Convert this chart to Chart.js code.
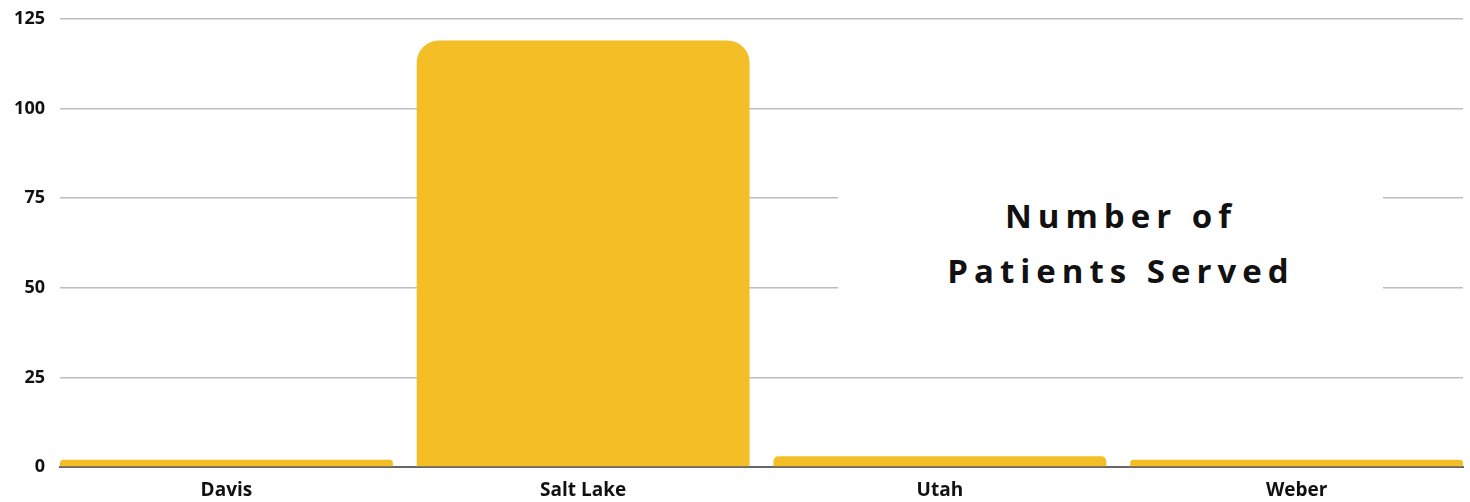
<!DOCTYPE html>
<html lang="en">
<head>
  <meta charset="UTF-8" />
  <title>Number of Patients Served</title>
  <style>
    body {
      margin: 0;
      background: #fff;
      font-family: "Open Sans", Arial, sans-serif;
    }
    .wrap {
      position: relative;
      width: 1470px;
      height: 502px;
    }
    .title-box {
      position: absolute;
      box-sizing: border-box;
      left: 838px;
      top: 160px;
      width: 545px;
      height: 165px;
      padding-left: 21px;
      background: #fff;
      display: flex;
      align-items: center;
      justify-content: center;
      text-align: center;
      font-size: 33px;
      font-weight: 700;
      letter-spacing: 6px;
      line-height: 55px;
      color: #111;
    }
  </style>
</head>
<body>

<div class="wrap">
  <canvas id="patientsChart"></canvas>
  <div class="title-box">Number of<br>Patients Served</div>
</div>

<script src="https://cdn.jsdelivr.net/npm/chart.js"></script>
<script>
  // counties and patient counts
  const counties = ['Davis', 'Salt Lake', 'Utah', 'Weber'];
  const patients = [2, 119, 3, 2];
  const yTicks = [0, 25, 50, 75, 100, 125];

  // linear x so the outer bars can sit flush with the plot edges
  const points = patients.map((v, i) => ({ x: i, y: v }));

  const ctx = document.getElementById('patientsChart').getContext('2d');
  new Chart(ctx, {
    type: 'bar',
    data: {
      datasets: [{
        label: 'Patients',
        data: points,
        backgroundColor: '#F4BE27',
        borderRadius: { topLeft: 22, topRight: 22 },
        borderSkipped: 'bottom',
        barPercentage: 0.933,
        categoryPercentage: 1
      }]
    },
    options: {
      responsive: true,
      maintainAspectRatio: false,
      animation: false,
      layout: { padding: { top: 19, right: 7, left: 0, bottom: 0 } },
      plugins: {
        legend: { display: false },
        tooltip: { enabled: false }
      },
      scales: {
        x: {
          type: 'linear',
          offset: false,
          min: -0.4664,
          max: 3.4664,
          afterBuildTicks: (scale) => {
            scale.ticks = counties.map((c, i) => ({ value: i }));
          },
          afterFit: (scale) => {
            scale.height = 35;
            scale.paddingLeft = 0;
            scale.paddingRight = 0;
          },
          grid: { display: false, offset: false },
          border: { display: true, color: '#666', width: 2 },
          ticks: {
            color: '#111',
            font: { family: 'Open Sans', size: 19, weight: 'bold' },
            padding: 4,
            maxRotation: 0,
            autoSkip: false,
            callback: (v) => counties[v]
          }
        },
        y: {
          min: 0,
          max: 125,
          afterBuildTicks: (scale) => {
            scale.ticks = yTicks.map(v => ({ value: v }));
          },
          afterFit: (scale) => {
            scale.width = 60;
            scale.paddingTop = 0;
            scale.paddingBottom = 0;
          },
          grid: { color: '#bdbdbd', lineWidth: 1.5, drawTicks: false },
          border: { display: false },
          ticks: {
            color: '#111',
            font: { family: 'Open Sans', size: 18, weight: 'bold' },
            padding: 15
          }
        }
      }
    }
  });
</script>

</body>
</html>
